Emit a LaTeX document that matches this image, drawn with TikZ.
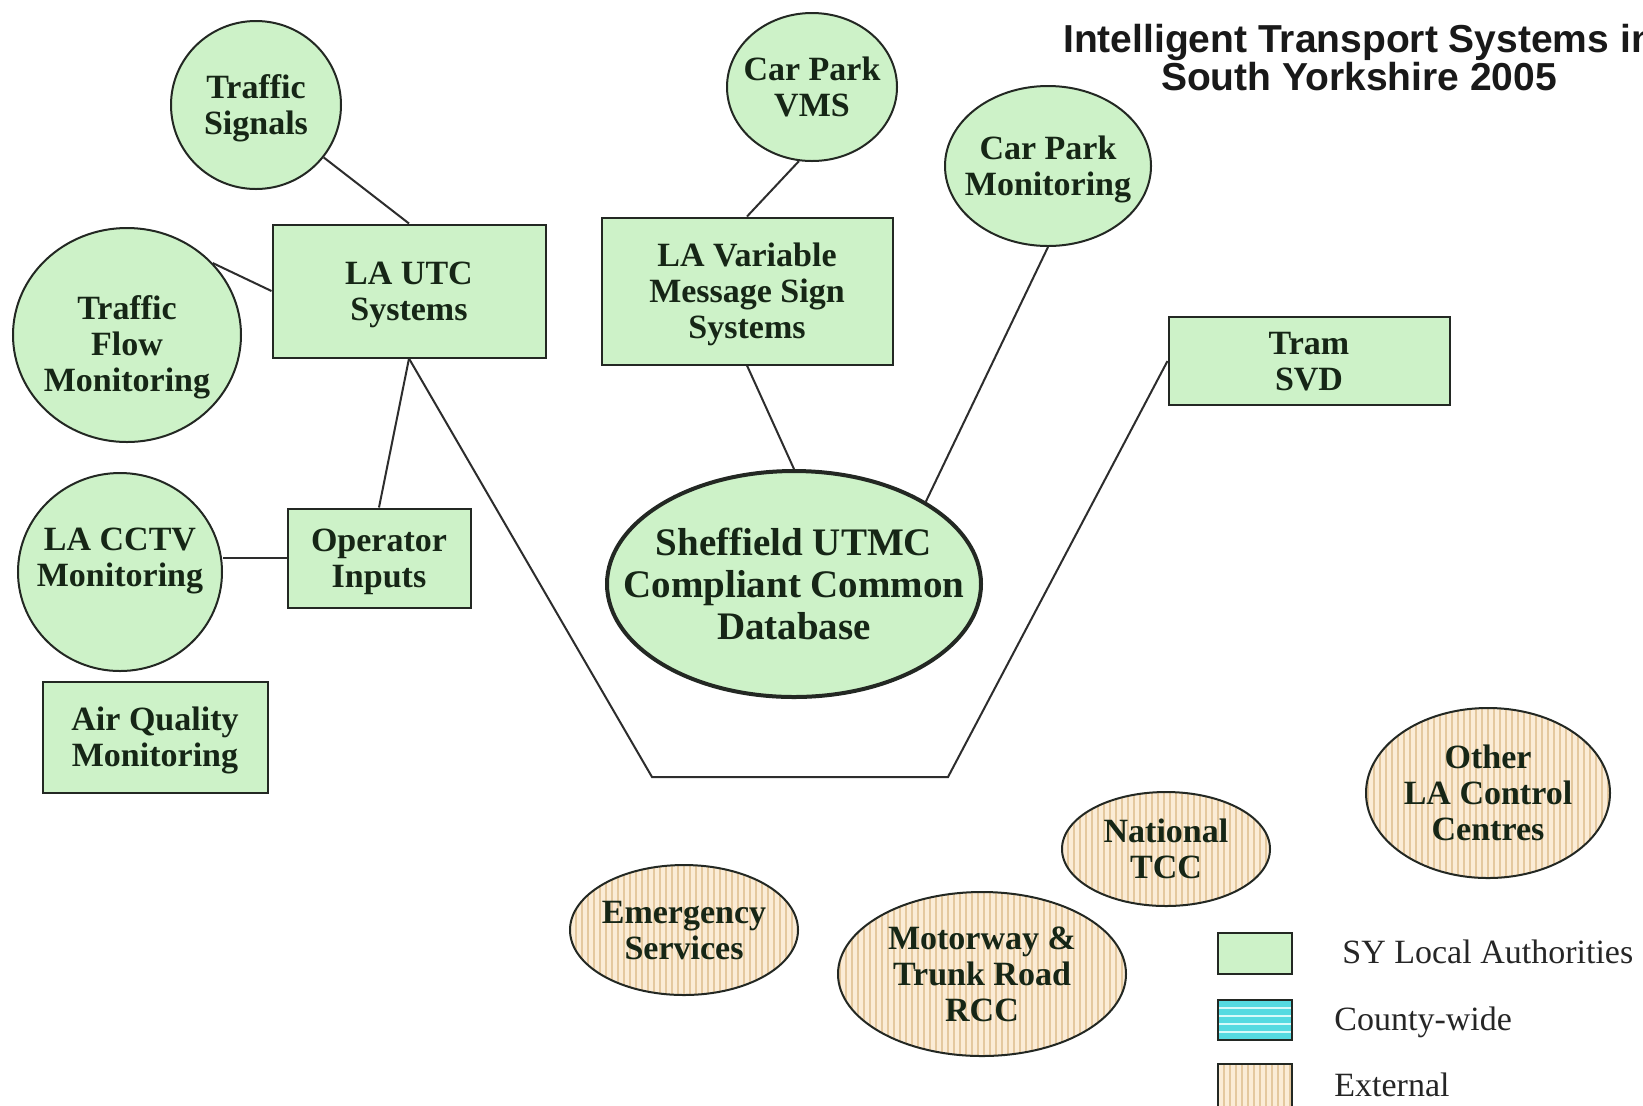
\documentclass[tikz,border=0pt]{standalone}
\usepackage{fontspec}
\setmainfont{Liberation Serif}
\newfontfamily\titlefont{Liberation Sans}
\usetikzlibrary{shapes.geometric,patterns.meta}
\definecolor{lagreen}{RGB}{205,242,200}
\definecolor{beige}{RGB}{251,236,214}
\definecolor{stripe}{RGB}{228,200,158}
\definecolor{cyanfill}{RGB}{85,218,225}
\definecolor{cyanstripe}{RGB}{215,250,250}
\definecolor{edge}{RGB}{35,40,35}
\definecolor{linec}{RGB}{45,45,45}
\definecolor{txt}{RGB}{22,38,22}
\begin{document}
\begin{tikzpicture}[x=0.5pt,y=-0.5pt,
  lbl/.style={font=\fontsize{17}{18}\selectfont\bfseries,text=txt,align=center,text depth=0pt},
  box/.style={lbl,draw=edge,line width=1pt,fill=lagreen,rectangle,inner sep=0pt},
  circ/.style={lbl,draw=edge,line width=1pt,fill=lagreen,ellipse,inner xsep=-40pt,inner ysep=0pt},
  ext/.style={lbl,draw=edge,line width=1pt,ellipse,inner xsep=-40pt,inner ysep=0pt,
    preaction={fill=beige},pattern={Lines[angle=90,distance=3pt,line width=1pt]},pattern color=stripe},
  link/.style={draw=linec,line width=1pt},
  legtext/.style={font=\fontsize{17}{18}\selectfont,text=black!85,anchor=base west,inner sep=0pt}
]
\useasboundingbox (0,0) rectangle (1643,1105);
\clip (0,0) rectangle (1643,1105);
\fill[white] (0,0) rectangle (1643,1105);

% title
\node[font=\titlefont\bfseries\fontsize{19.5}{19}\selectfont,align=center,text=black!90] (title) at (1359,58)
  {Intelligent Transport Systems in\\South Yorkshire 2005};

% green circles
\node[circ,minimum width=85pt,minimum height=84pt] (ts) at (256,105) {Traffic\\Signals};
\node[circ,minimum width=85pt,minimum height=74pt] (cpvms) at (812,87) {Car Park\\VMS};
\node[circ,minimum width=103pt,minimum height=80pt] (cpm) at (1048,166) {Car Park\\Monitoring};
\node[circ,minimum width=114pt,minimum height=107pt,
      label={[lbl,inner sep=0pt,yshift=-4.2pt,name=tftext]center:{Traffic\\Flow\\Monitoring}}] (tf) at (127,335) {};
\node[circ,text depth=15pt,minimum width=102pt,minimum height=99pt] (cctv) at (120,572) {LA CCTV\\Monitoring};
\node[circ,line width=2pt,minimum width=187pt,minimum height=113pt,
      font=\fontsize{19.5}{21}\selectfont\bfseries] (db) at (794,584)
  {Sheffield UTMC\\Compliant Common\\Database};

% green boxes
\node[box,minimum width=136.5pt,minimum height=66.5pt] (utc) at (409,291) {LA UTC\\Systems};
\node[box,minimum width=145.5pt,minimum height=73.5pt] (vms) at (747,291) {LA Variable\\Message Sign\\Systems};
\node[box,minimum width=140.5pt,minimum height=44pt] (tram) at (1309,361) {Tram\\SVD};
\node[box,minimum width=91.5pt,minimum height=49.5pt] (op) at (379,558) {Operator\\Inputs};
\node[box,minimum width=112.5pt,minimum height=55.5pt] (aq) at (155,737) {Air Quality\\Monitoring};

% external
\node[ext,minimum width=114pt,minimum height=65pt] (es) at (684,930) {Emergency\\Services};
\node[ext,minimum width=144pt,minimum height=82pt] (mw) at (982,974) {Motorway \&\\Trunk Road\\RCC};
\node[ext,minimum width=104pt,minimum height=57pt] (nt) at (1166,849) {National\\TCC};
\node[ext,minimum width=122pt,minimum height=85pt] (ola) at (1488,793) {Other\\LA Control\\Centres};

% connectors
\coordinate (v1) at (652,777);
\coordinate (v2) at (948,777);
\draw[link] (ts) -- (utc.north);
\draw[link] (tf.40) -- (utc.west);
\draw[link] (utc.south) -- (op.north);
\draw[link] (op.west) -- (op.west -| cctv.east);
\draw[link] (utc.south) -- (v1) -- (v2) -- (tram.west);
\draw[link] (cpvms.-100) -- (vms.north);
\draw[link] (vms.south) -- (db.north);
\draw[link] (cpm.south) -- (db.32);

% legend
\node[draw=edge,line width=1pt,fill=lagreen,minimum width=37pt,minimum height=20.5pt,inner sep=0pt] (lg1) at (1255,953.5) {};
\node[fill=cyanfill,minimum width=37pt,minimum height=20pt,inner sep=0pt] (lg2) at (1255,1020) {};
\foreach \d in {-6,-2,2,6}
  \draw[cyanstripe,line width=1.4pt] ([yshift=\d pt]lg2.west) -- ([yshift=\d pt]lg2.east);
\draw[edge,line width=1pt] (lg2.south west) rectangle (lg2.north east);
\node[draw=edge,line width=1pt,preaction={fill=beige},pattern={Lines[angle=90,distance=3pt,line width=1pt]},pattern color=stripe,
      minimum width=37pt,minimum height=23pt,inner sep=0pt] (lg3) at (1255,1087) {};
\node[legtext] (lt1) at (1342,963) {SY Local Authorities};
\node[legtext] (lt2) at (1334,1030) {County-wide};
\node[legtext] (lt3) at (1334,1096) {External};
\end{tikzpicture}
\end{document}
